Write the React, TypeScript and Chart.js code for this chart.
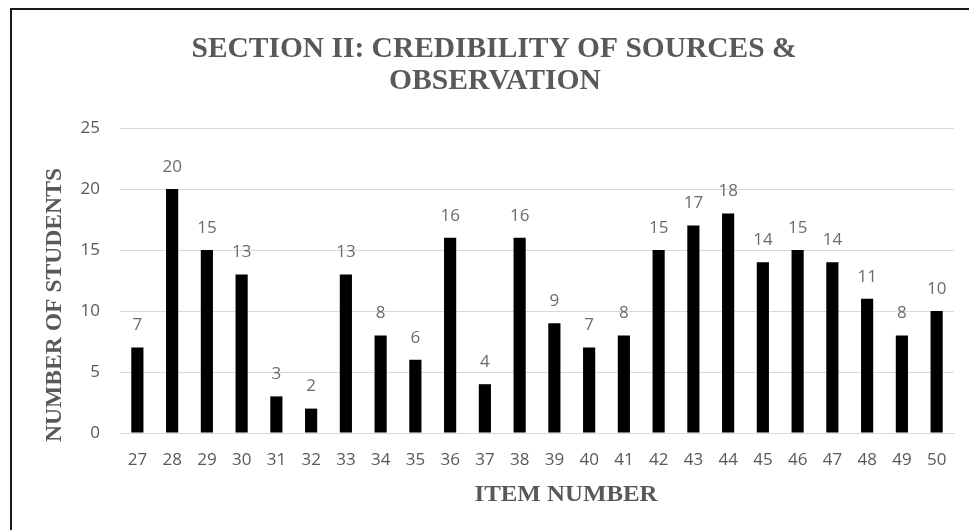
import React, { useEffect, useRef } from "react";
import { Chart, registerables } from "chart.js";

Chart.register(...registerables);

const categories = ["27","28","29","30","31","32","33","34","35","36","37","38","39","40","41","42","43","44","45","46","47","48","49","50"];
const students = [7,20,15,13,3,2,13,8,6,16,4,16,9,7,8,15,17,18,14,15,14,11,8,10];
const titleLines = ["SECTION II: CREDIBILITY OF SOURCES &", "OBSERVATION"];
const yTitle = "NUMBER OF STUDENTS";
const xTitle = "ITEM NUMBER";

const TEXT = "#595959";
const LABEL = "#6b6b6b";
const SERIF = "'Liberation Serif', 'Times New Roman', serif";
const SANS = "'Open Sans', 'Noto Sans', sans-serif";

function drawScaled(ctx: CanvasRenderingContext2D, text: string, x: number, y: number, size: number, width: number, rot = 0) {
  ctx.save();
  ctx.font = `bold ${size}px ${SERIF}`;
  const m = ctx.measureText(text).width;
  ctx.translate(x, y);
  ctx.rotate(rot);
  ctx.scale(width / m, 1);
  ctx.textAlign = "center";
  ctx.textBaseline = "middle";
  ctx.fillStyle = TEXT;
  ctx.fillText(text, 0, 0);
  ctx.restore();
}

const overlayPlugin = {
  id: "overlay",
  afterDatasetsDraw(chart: any) {
    const ctx = chart.ctx as CanvasRenderingContext2D;
    const meta = chart.getDatasetMeta(0);
    ctx.save();
    ctx.font = `17px ${SANS}`;
    ctx.fillStyle = LABEL;
    ctx.textAlign = "center";
    ctx.textBaseline = "middle";
    meta.data.forEach((bar: any, i: number) => {
      ctx.fillText(String(chart.data.datasets[0].data[i]), bar.x, bar.y - 22);
    });
    ctx.restore();
    drawScaled(ctx, titleLines[0], 494, 49, 30, 605);
    drawScaled(ctx, titleLines[1], 495, 81, 30, 212);
    drawScaled(ctx, yTitle, 55, 305, 23, 274, -Math.PI / 2);
    drawScaled(ctx, xTitle, 566, 495, 24, 183);
  },
};

export default function App() {
  const ref = useRef<HTMLCanvasElement>(null);
  useEffect(() => {
    if (!ref.current) return;
    const chart = new Chart(ref.current, {
      type: "bar",
      data: {
        labels: categories,
        datasets: [
          {
            data: students,
            backgroundColor: "#000000",
            borderWidth: 0,
            barPercentage: 0.35,
            categoryPercentage: 1,
          },
        ],
      },
      options: {
        responsive: false,
        animation: false,
        devicePixelRatio: 1,
        layout: { padding: { left: 0, right: 15, top: 128, bottom: 0 } },
        plugins: { legend: { display: false }, title: { display: false }, tooltip: { enabled: false } },
        scales: {
          x: {
            grid: { display: false, drawTicks: false },
            border: { display: true, color: "#d9d9d9", width: 1 },
            ticks: { color: TEXT, font: { family: SANS, size: 17 }, padding: 17, maxRotation: 0, autoSkip: false },
            afterFit: (s: any) => { s.height = 97; },
          },
          y: {
            min: 0,
            max: 25,
            ticks: { stepSize: 5, color: TEXT, font: { family: SANS, size: 17 }, padding: 20 },
            grid: { color: "#d9d9d9", drawTicks: false },
            border: { display: false },
            afterFit: (s: any) => { s.width = 120; },
          },
        },
      },
      plugins: [overlayPlugin],
    });
    return () => chart.destroy();
  }, []);
  return (
    <div style={{ position: "fixed", left: 0, top: 0, width: 969, height: 530, background: "#fff", overflow: "hidden" }}>
      <canvas ref={ref} width={969} height={530} style={{ position: "absolute", left: 0, top: 0, width: 969, height: 530 }} />
      <div style={{ position: "absolute", left: 10, top: 8, width: 959, height: 2, background: "#1a1a1a" }} />
      <div style={{ position: "absolute", left: 10, top: 8, width: 2, height: 522, background: "#1a1a1a" }} />
    </div>
  );
}
